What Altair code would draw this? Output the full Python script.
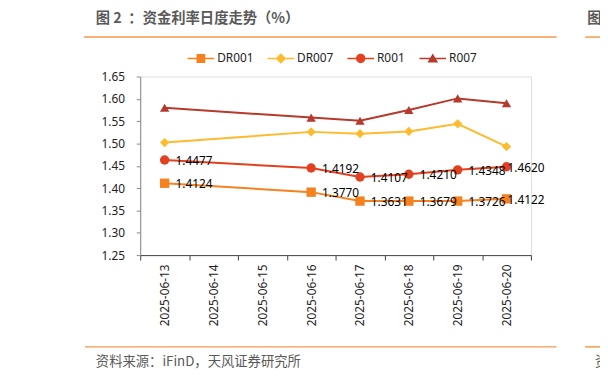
import altair as alt
import pandas as pd

# ---- data ----
all_dates = ["2025-06-13", "2025-06-14", "2025-06-15", "2025-06-16",
             "2025-06-17", "2025-06-18", "2025-06-19", "2025-06-20"]
obs_dates = ["2025-06-13", "2025-06-16", "2025-06-17", "2025-06-18",
             "2025-06-19", "2025-06-20"]
series_names = ["DR001", "DR007", "R001", "R007"]
dr001 = [1.411, 1.391, 1.371, 1.371, 1.371, 1.376]
dr007 = [1.502, 1.526, 1.522, 1.527, 1.544, 1.493]
r001 = [1.463, 1.445, 1.425, 1.431, 1.441, 1.448]
r007 = [1.580, 1.558, 1.551, 1.575, 1.601, 1.590]
dr001_labels = ["1.4124", "1.3770", "1.3631", "1.3679", "1.3726", "1.4122"]
r001_labels = ["1.4477", "1.4192", "1.4107", "1.4210", "1.4348", "1.4620"]
y_ticks = [1.25, 1.30, 1.35, 1.40, 1.45, 1.50, 1.55, 1.60, 1.65]

title_prefix = "图 2"
title_text = "：资金利率日度走势（%）"
source_text = "资料来源：iFinD，天风证券研究所"

colors = ["#F5821F", "#FDBB2D", "#E2401E", "#B53A2B"]
shapes = ["square", "diamond", "circle", "triangle-up"]
legend_paths = [
    "M-1,-0.05H1V0.05H-1Z M-0.33,-0.33H0.33V0.33H-0.33Z",
    "M-1,-0.05H1V0.05H-1Z M0,-0.4L0.4,0L0,0.4L-0.4,0Z",
    "M-1,-0.05H1V0.05H-1Z M-0.35,0A0.35,0.35 0 1,1 0.35,0A0.35,0.35 0 1,1 -0.35,0Z",
    "M-1,-0.05H1V0.05H-1Z M0,-0.38L0.4,0.3H-0.4Z",
]

rows = []
label_map = {"DR001": dr001_labels, "R001": r001_labels}
for name, vals in zip(series_names, [dr001, dr007, r001, r007]):
    for i, (d, v) in enumerate(zip(obs_dates, vals)):
        rows.append({"date": d, "series": name, "value": v,
                     "label": label_map[name][i] if name in label_map else "",
                     "last": i == len(obs_dates) - 1})
df = pd.DataFrame(rows)

FONT = "Noto Sans, Noto Sans CJK SC"
W, H = 396, 181

x_enc = alt.X("date:N", scale=alt.Scale(type="band", domain=all_dates,
                                        paddingInner=0, paddingOuter=0),
              axis=alt.Axis(title=None, labelAngle=270, tickBand="extent",
                            labelFontSize=12, labelFont=FONT, labelColor="#222222",
                            domainColor="#404040", tickColor="#404040",
                            tickSize=5, labelPadding=4, grid=False))
y_enc = alt.Y("value:Q", scale=alt.Scale(domain=[1.25, 1.65], nice=False, zero=False),
              axis=alt.Axis(title=None, values=y_ticks, format=".2f",
                            labelFontSize=12, labelFont=FONT, labelColor="#222222",
                            domainColor="#888888", tickColor="#888888",
                            tickSize=4, labelPadding=12, grid=False))
color_nolegend = alt.Color("series:N", scale=alt.Scale(domain=series_names, range=colors),
                           legend=None)

base = alt.Chart(df)

lines = base.mark_line(strokeWidth=2).encode(x=x_enc, y=y_enc, color=color_nolegend,
                                             detail="series:N")
points = base.mark_point(filled=True, opacity=1, size=90).encode(
    x=x_enc, y=y_enc, color=color_nolegend,
    shape=alt.Shape("series:N", scale=alt.Scale(domain=series_names, range=shapes),
                    legend=None))

leg = dict(title=None, orient="none", legendX=48, legendY=-32,
           direction="horizontal", symbolSize=729, symbolStrokeWidth=0,
           labelFontSize=12, labelFont=FONT, labelColor="#222222",
           labelOffset=3, columnPadding=14, padding=0)
legend_layer = base.mark_point(filled=True, opacity=1).encode(
    x=x_enc, y=y_enc,
    color=alt.Color("series:N", scale=alt.Scale(domain=series_names, range=colors),
                    legend=alt.Legend(**leg)),
    shape=alt.Shape("series:N", scale=alt.Scale(domain=series_names, range=legend_paths),
                    legend=alt.Legend(**leg)),
).transform_filter("false")

labels_main = base.mark_text(align="left", baseline="middle", dx=11, dy=1,
                             fontSize=12, font=FONT, color="#000000").encode(
    x=x_enc, y=y_enc, text="label:N"
).transform_filter("datum.label != '' && !datum.last")
labels_last = base.mark_text(align="left", baseline="middle", dx=1, dy=1,
                             fontSize=12, font=FONT, color="#000000").encode(
    x=x_enc, y=y_enc, text="label:N"
).transform_filter("datum.label != '' && datum.last")

one = pd.DataFrame({"k": [0]})
ORANGE = "#F39A4C"


def hrule(x1, x2, y):
    return alt.Chart(one).mark_rule(color=ORANGE, strokeWidth=1.5).encode(
        x=alt.value(x1), x2=alt.value(x2), y=alt.value(y))


def txt(s, x, y, size, bold=False, color="#595959"):
    return alt.Chart(one).mark_text(align="left", baseline="middle", fontSize=size,
                                    font="Noto Sans CJK SC",
                                    fontWeight="bold" if bold else "normal",
                                    color=color).encode(
        x=alt.value(x), y=alt.value(y), text=alt.value(s))


decor = [
    txt(title_prefix, -45, -58, 14.5, bold=True),
    txt(title_text, -12, -58, 14.5, bold=True),
    hrule(-57, 422, -40),
    hrule(451, 475, -40),
    txt("图", 453, -58, 14.5, bold=True),
    hrule(-56, 422, 274),
    hrule(451, 475, 274),
    txt(source_text, -45, 289, 13.5),
    txt("资", 461, 289, 13.5),
]

chart = alt.layer(
    lines, points, legend_layer, labels_main, labels_last, *decor
).resolve_scale(
    color="independent", shape="independent"
).properties(
    width=W, height=H,
    autosize=alt.AutoSizeParams(type="none"),
    padding={"left": 134, "top": 67, "right": 70, "bottom": 114},
).configure_view(stroke=None).configure(background="white")

chart.save("out.html", embed_options={"renderer": "svg", "actions": False})
